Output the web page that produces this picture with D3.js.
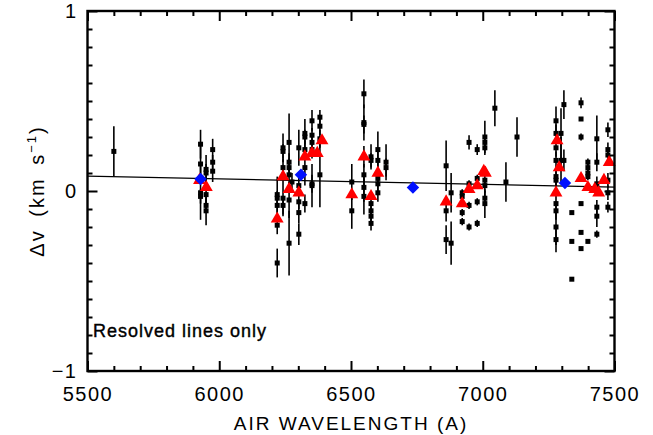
<!DOCTYPE html>
<html>
<head>
<meta charset="utf-8">
<title>Resolved lines</title>
<style>
  body { margin: 0; background: #fff; }
  text { font-family: "Liberation Sans", Arial, sans-serif; fill: #000; }
</style>
</head>
<body>
<svg id="chart" width="653" height="435"></svg>
<script src="https://cdn.jsdelivr.net/npm/d3@7"></script>
<script>
// x ticks / y ticks
const xMajor = [5500, 6000, 6500, 7000, 7500];
const yMajor = [-1, 0, 1];

// black squares: [wavelength, dv, error]
const lines = [
  [5600, 0.22, 0.14],
  [5929, 0.26, 0.08], [5929, 0.15, 0.10], [5929, -0.01, 0.15], [5929, -0.03, 0.04],
  [5950, 0.12, 0.08], [5950, 0.10, 0.05], [5950, -0.02, 0.06], [5950, -0.08, 0.04], [5950, -0.11, 0.08],
  [5975, 0.23, 0.06], [5975, 0.16, 0.04], [5975, 0.11, 0.06],
  [6220, -0.02, 0.10], [6220, -0.04, 0.04], [6220, -0.08, 0.06], [6220, -0.19, 0.05], [6220, -0.40, 0.08],
  [6242, 0.24, 0.08], [6242, 0.22, 0.04], [6242, 0.13, 0.05], [6242, -0.04, 0.10], [6242, -0.08, 0.05],
  [6265, 0.27, 0.16], [6265, 0.16, 0.05], [6265, 0.13, 0.05], [6265, 0.09, 0.05], [6265, -0.05, 0.10], [6265, -0.29, 0.18],
  [6276, 0.05, 0.05],
  [6302, 0.24, 0.10], [6302, 0.03, 0.05], [6302, -0.06, 0.04], [6302, -0.12, 0.06], [6302, -0.24, 0.06],
  [6325, 0.32, 0.08], [6325, 0.30, 0.04], [6325, 0.23, 0.05], [6325, 0.13, 0.10], [6325, -0.07, 0.05],
  [6352, 0.39, 0.06], [6352, 0.31, 0.04], [6352, 0.27, 0.05], [6352, 0.23, 0.05], [6352, 0.04, 0.05], [6352, 0.03, 0.12],
  [6382, 0.41, 0.04], [6382, 0.36, 0.05], [6382, 0.29, 0.05], [6382, 0.09, 0.18],
  [6503, 0.05, 0.10], [6503, -0.11, 0.10],
  [6549, 0.54, 0.08], [6549, 0.38, 0.10], [6549, 0.37, 0.05], [6549, 0.19, 0.06], [6549, 0.09, 0.06], [6549, 0.02, 0.08], [6549, -0.03, 0.10],
  [6576, 0.19, 0.07], [6576, 0.17, 0.04], [6576, -0.07, 0.04], [6576, -0.11, 0.04], [6576, -0.14, 0.04], [6576, -0.18, 0.04],
  [6602, 0.23, 0.10], [6602, 0.17, 0.05], [6602, 0.07, 0.04], [6602, 0.04, 0.04], [6602, -0.01, 0.05],
  [6633, 0.16, 0.10], [6633, 0.13, 0.05],
  [6861, 0.14, 0.14], [6861, -0.11, 0.06], [6861, -0.27, 0.08],
  [6880, -0.01, 0.11], [6880, -0.29, 0.12],
  [6922, -0.01, 0.02], [6922, -0.03, 0.02], [6922, -0.12, 0.02], [6922, -0.17, 0.02],
  [6948, 0.27, 0.04], [6948, 0.04, 0.02], [6948, -0.08, 0.02], [6948, -0.20, 0.02],
  [6979, 0.23, 0.03], [6979, 0.07, 0.02], [6979, -0.06, 0.02], [6979, -0.18, 0.02],
  [7008, 0.30, 0.09], [7008, 0.27, 0.04], [7008, 0.24, 0.04], [7008, 0.06, 0.04], [7008, 0.03, 0.04], [7008, -0.04, 0.04], [7008, -0.07, 0.08],
  [7046, 0.46, 0.10],
  [7088, 0.05, 0.11],
  [7130, 0.30, 0.11],
  [7278, 0.39, 0.08], [7278, 0.32, 0.05], [7278, 0.24, 0.05], [7278, 0.17, 0.05], [7278, 0.08, 0.05], [7278, 0.06, 0.05],
  [7278, -0.07, 0.05], [7278, -0.11, 0.05], [7278, -0.20, 0.10], [7278, -0.27, 0.07],
  [7297, 0.32, 0.14], [7297, 0.17, 0.13],
  [7308, 0.48, 0.08], [7308, 0.17, 0.06],
  [7338, -0.12, 0.01], [7338, -0.28, 0.01], [7338, -0.49, 0.01],
  [7373, 0.49, 0.03], [7373, 0.40, 0.01], [7373, 0.30, 0.02], [7373, -0.07, 0.01], [7373, -0.23, 0.01], [7373, -0.32, 0.01],
  [7399, 0.16, 0.02], [7399, 0.13, 0.02], [7399, 0.10, 0.02], [7399, 0.08, 0.02], [7399, -0.28, 0.01],
  [7433, 0.29, 0.13], [7433, 0.16, 0.05], [7433, 0.04, 0.04], [7433, -0.09, 0.04], [7433, -0.14, 0.06], [7433, -0.24, 0.02],
  [7475, 0.34, 0.04], [7475, 0.23, 0.04], [7475, 0.20, 0.04], [7475, 0.06, 0.04], [7475, -0.01, 0.04], [7475, -0.09, 0.03]
];

// red triangles: [wavelength, dv]
const triangles = [
  [5925, 0.06], [5951, 0.02],
  [6220, -0.155], [6242, 0.08], [6265, 0.01], [6302, -0.01], [6325, 0.19], [6352, 0.21], [6372, 0.21], [6390, 0.28],
  [6503, -0.02], [6549, 0.19], [6576, -0.03], [6602, 0.10],
  [6861, -0.06], [6922, -0.07], [6948, 0.01], [6979, 0.03], [7004, 0.11], [7010, 0.10],
  [7282, 0.28], [7290, 0.13], [7278, -0.01], [7373, 0.07], [7399, 0.02], [7425, 0.01], [7440, -0.01],
  [7480, 0.16], [7460, 0.06]
];

// blue diamonds: [wavelength, dv]
const diamonds = [[5929, 0.067], [6310, 0.09], [6735, 0.02], [7312, 0.045]];

// linear fit
const fit = [[5500, 0.083], [7500, 0.022]];

const svg = d3.select("#chart");
const x = d3.scaleLinear().domain([5500, 7500]).range([87.5, 614.5]);
const y = d3.scaleLinear().domain([-1, 1]).range([371, 11]);
const x0 = 87.5, x1 = 614.5, y0 = 371, y1 = 11;

// error bars
svg.append("g").selectAll("line").data(lines).enter().append("line")
  .attr("x1", d => x(d[0])).attr("x2", d => x(d[0]))
  .attr("y1", d => y(d[1] - d[2])).attr("y2", d => y(d[1] + d[2]))
  .attr("stroke", "#000").attr("stroke-width", 1.6);

// squares
svg.append("g").selectAll("rect").data(lines).enter().append("rect")
  .attr("x", d => x(d[0]) - 2.5).attr("y", d => y(d[1]) - 2.5)
  .attr("width", 5).attr("height", 5).attr("fill", "#000");

// fit line
svg.append("path").datum(fit)
  .attr("d", d3.line().x(d => x(d[0])).y(d => y(d[1])))
  .attr("fill", "none").attr("stroke", "#000").attr("stroke-width", 1.3);

// triangles
const tri = d3.symbol().type(d3.symbolTriangle).size(72);
svg.append("g").selectAll("path").data(triangles).enter().append("path")
  .attr("d", tri)
  .attr("transform", d => `translate(${x(d[0])},${y(d[1])})`)
  .attr("fill", "#ff0000");

// diamonds
const dia = d3.symbol().type(d3.symbolSquare).size(78);
svg.append("g").selectAll("path").data(diamonds).enter().append("path")
  .attr("d", dia)
  .attr("transform", d => `translate(${x(d[0])},${y(d[1])}) rotate(45)`)
  .attr("fill", "#0010ff");

// axes, IDL style ticks inward on all sides
function style(g) {
  g.select(".domain").remove();
  g.selectAll(".tick line").attr("stroke", "#000").attr("stroke-width", 2);
  g.selectAll(".tick text").attr("font-size", 20).attr("fill", "#000")
    .attr("letter-spacing", 1.5)
    .style("font-family", "'Liberation Sans', Arial, sans-serif");
}
const xMinor = d3.range(5500, 7501, 100).filter(v => !xMajor.includes(v));
const yMinor = d3.range(-10, 11).map(v => v / 10).filter(v => !yMajor.includes(v));

svg.append("g").attr("transform", `translate(0,${y0})`)
  .call(d3.axisBottom(x).tickValues(xMajor).tickSize(-10).tickPadding(16).tickFormat(d3.format("d"))).call(style);
svg.append("g").attr("transform", `translate(0,${y0})`)
  .call(d3.axisBottom(x).tickValues(xMinor).tickSize(-5).tickFormat("")).call(style);
svg.append("g").attr("transform", `translate(0,${y1})`)
  .call(d3.axisTop(x).tickValues(xMajor).tickSize(-10).tickFormat("")).call(style);
svg.append("g").attr("transform", `translate(0,${y1})`)
  .call(d3.axisTop(x).tickValues(xMinor).tickSize(-5).tickFormat("")).call(style);

svg.append("g").attr("transform", `translate(${x0},0)`)
  .call(d3.axisLeft(y).tickValues(yMajor).tickSize(-10).tickPadding(10).tickFormat(d3.format("d"))).call(style);
svg.append("g").attr("transform", `translate(${x0},0)`)
  .call(d3.axisLeft(y).tickValues(yMinor).tickSize(-5).tickFormat("")).call(style);
svg.append("g").attr("transform", `translate(${x1},0)`)
  .call(d3.axisRight(y).tickValues(yMajor).tickSize(-10).tickFormat("")).call(style);
svg.append("g").attr("transform", `translate(${x1},0)`)
  .call(d3.axisRight(y).tickValues(yMinor).tickSize(-5).tickFormat("")).call(style);

// frame
svg.append("rect").attr("x", x0).attr("y", y1).attr("width", x1 - x0).attr("height", y0 - y1)
  .attr("fill", "none").attr("stroke", "#000").attr("stroke-width", 2.4);

// labels
svg.append("text").attr("x", (x0 + x1) / 2).attr("y", 430).attr("text-anchor", "middle")
  .attr("font-size", 19).attr("letter-spacing", 2).text("AIR WAVELENGTH (A)");

const yl = svg.append("text").attr("transform", "translate(44,191) rotate(-90)")
  .attr("text-anchor", "middle").attr("font-size", 20).attr("letter-spacing", 2).attr("word-spacing", 5);
yl.append("tspan").text("\u0394v (km s");
yl.append("tspan").attr("font-size", 13).attr("dy", -8).text("\u22121");
yl.append("tspan").attr("dy", 8).text(")");

svg.append("text").attr("x", 93).attr("y", 337).attr("font-size", 18)
  .attr("letter-spacing", 1).attr("stroke", "#000").attr("stroke-width", 0.4)
  .text("Resolved lines only");
</script>
</body>
</html>
